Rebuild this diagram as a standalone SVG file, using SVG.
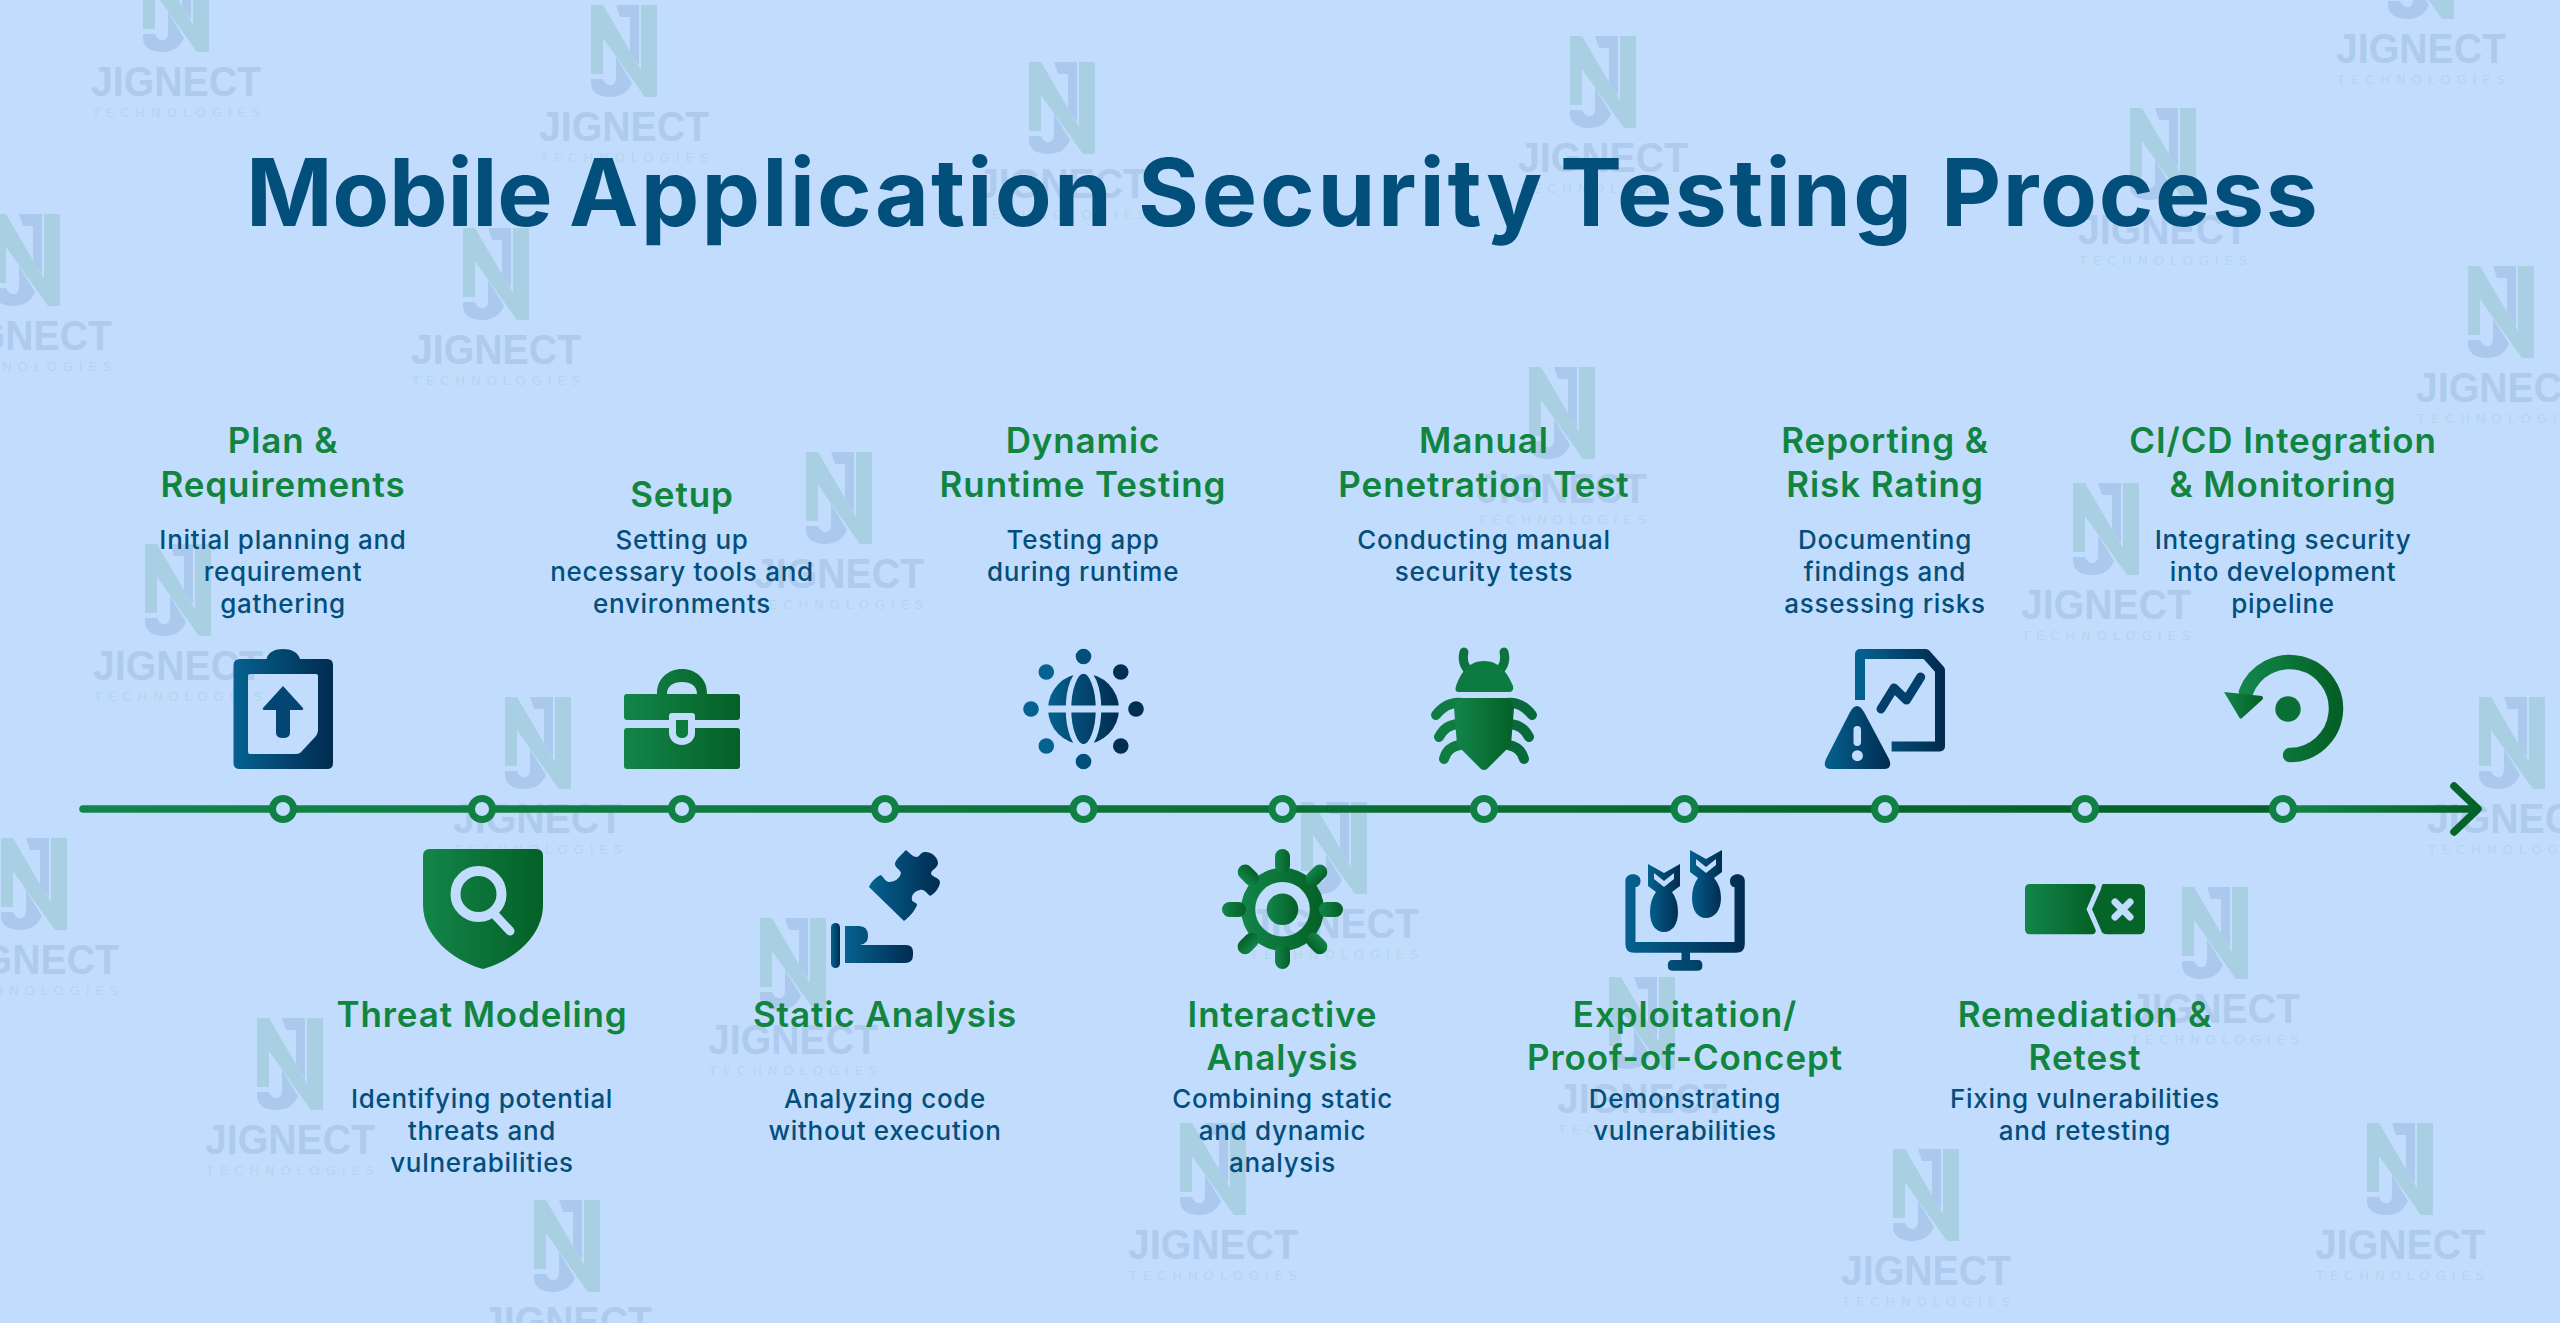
<svg xmlns="http://www.w3.org/2000/svg" xmlns:xlink="http://www.w3.org/1999/xlink" width="2560" height="1323" viewBox="0 0 2560 1323">
<style>
text{font-family:"Inter","Roboto","Liberation Sans",sans-serif;text-anchor:middle}
.title{font-size:93px;font-weight:700;fill:#034f7c;text-anchor:start}
.h{font-size:35px;font-weight:600;fill:#11853f;letter-spacing:.9px}
.d{font-size:26px;font-weight:500;fill:#034f7c;letter-spacing:.7px}
.wj{font-family:"Liberation Sans",sans-serif;font-weight:700;font-size:42px;fill:#aecbee;text-anchor:start;letter-spacing:0}
.wt{font-family:"DejaVu Sans",sans-serif;font-size:13px;fill:#b2d6ea;text-anchor:start;letter-spacing:0}
.ring{fill:#c2dcfd;stroke:#118044;stroke-width:7}
.g{fill:url(#gg)}
.b{fill:url(#bg)}
</style>
<defs>
<linearGradient id="gg" x1="0" x2="1" y1="0" y2="0"><stop offset="0" stop-color="#13854a"/><stop offset="1" stop-color="#046026"/></linearGradient>
<linearGradient id="bg" x1="0" x2="1" y1="0" y2="0"><stop offset="0" stop-color="#04618f"/><stop offset="1" stop-color="#012c50"/></linearGradient>
<linearGradient id="l1" gradientUnits="userSpaceOnUse" x1="80" x2="2283" y1="0" y2="0"><stop offset="0" stop-color="#13854a"/><stop offset="1" stop-color="#046026"/></linearGradient>
<linearGradient id="l2" gradientUnits="userSpaceOnUse" x1="2283" x2="2481" y1="0" y2="0"><stop offset="0" stop-color="#13854a"/><stop offset="1" stop-color="#046026"/></linearGradient>
<g id="logo">
<path fill="#abc9ec" d="M77 0H100V60L91 47V12H81Z"/>
<path fill="#abc9ec" d="M52 74H64C66 79 70 81 73 80C76 79 77 76 77 72V52L93 78C89 87 82 92 71 92C60 92 52 87 52 78Z"/>
<path fill="#a9cfe2" d="M52 0H64L102 65V0H118V92H106L64 33V69H52Z"/>
<text class="wj" x="0" y="136" textLength="170" lengthAdjust="spacingAndGlyphs">JIGNECT</text>
<text class="wt" x="1" y="157" textLength="168" lengthAdjust="spacing">TECHNOLOGIES</text>
</g>
</defs>
<rect id="background" width="2560" height="1323" fill="#c2dcfd"/>
<g id="watermarks">
<use xlink:href="#logo" href="#logo" x="91" y="-40"/>
<use xlink:href="#logo" href="#logo" x="539" y="5"/>
<use xlink:href="#logo" href="#logo" x="-58" y="214"/>
<use xlink:href="#logo" href="#logo" x="411" y="228"/>
<use xlink:href="#logo" href="#logo" x="977" y="62"/>
<use xlink:href="#logo" href="#logo" x="1518" y="36"/>
<use xlink:href="#logo" href="#logo" x="2078" y="108"/>
<use xlink:href="#logo" href="#logo" x="2336" y="-73"/>
<use xlink:href="#logo" href="#logo" x="2416" y="266"/>
<use xlink:href="#logo" href="#logo" x="1477" y="367"/>
<use xlink:href="#logo" href="#logo" x="754" y="452"/>
<use xlink:href="#logo" href="#logo" x="2021" y="483"/>
<use xlink:href="#logo" href="#logo" x="93" y="544"/>
<use xlink:href="#logo" href="#logo" x="453" y="697"/>
<use xlink:href="#logo" href="#logo" x="2427" y="697"/>
<use xlink:href="#logo" href="#logo" x="-51" y="838"/>
<use xlink:href="#logo" href="#logo" x="1249" y="802"/>
<use xlink:href="#logo" href="#logo" x="2130" y="887"/>
<use xlink:href="#logo" href="#logo" x="708" y="918"/>
<use xlink:href="#logo" href="#logo" x="1557" y="977"/>
<use xlink:href="#logo" href="#logo" x="205" y="1018"/>
<use xlink:href="#logo" href="#logo" x="1128" y="1123"/>
<use xlink:href="#logo" href="#logo" x="1841" y="1149"/>
<use xlink:href="#logo" href="#logo" x="2315" y="1123"/>
<use xlink:href="#logo" href="#logo" x="482" y="1200"/>
</g>
<text id="title" class="title" y="226"><tspan x="246" style="letter-spacing:-.3px">Mobile </tspan><tspan x="569" style="letter-spacing:2.200px">Application </tspan><tspan x="1138" style="letter-spacing:2.800px">Security </tspan><tspan x="1560" style="letter-spacing:2.300px">Testing </tspan><tspan x="1941" style="letter-spacing:1.600px">Process</tspan></text>
<g id="connectors" fill="none" stroke-linecap="round" stroke-linejoin="round" stroke-width="7.5">
<path stroke="url(#l1)" d="M83 809H2283"/>
<path stroke="url(#l2)" d="M2283 809H2477"/>
<path stroke="url(#l2)" d="M2454 786L2478 809L2454 832"/>
</g>
<g id="n1">
<circle class="ring" cx="283" cy="809" r="10.500"/>
<path class="b" fill-rule="evenodd" d="M240 659H266.600C268 652 275 649 283 649C291 649 298 652 300 659H327Q333 659 333 665V763Q333 769 327 769H240Q233.500 769 233.500 763V665Q233.500 659 240 659ZM250 674Q248 674 248 676V752Q248 754 250 754H296Q300 754 302 751L316 736Q318 733 318 730V676Q318 674 316 674Z"/>
<path fill="#034673" d="M283 686L303 708Q304 710 301 710H290V733Q290 738 283 738Q276 738 276 733V710H265Q262 710 263 708Z"/>
<text class="h" x="283" y="453">Plan &amp;</text><text class="h" x="283" y="497">Requirements</text>
<text class="d" x="283" y="549">Initial planning and</text><text class="d" x="283" y="581">requirement</text><text class="d" x="283" y="613">gathering</text>
</g>
<g id="n2">
<circle class="ring" cx="482" cy="809" r="10.500"/>
<path class="g" d="M430 849H536Q543 849 543 856V905C543 935 515 960 483 969C451 960 423 935 423 905V856Q423 849 430 849Z"/>
<circle cx="478.500" cy="894" r="23" fill="none" stroke="#c2dcfd" stroke-width="10"/>
<path d="M496 916L510 931" stroke="#c2dcfd" stroke-width="9" stroke-linecap="round"/>
<text class="h" x="482" y="1027">Threat Modeling</text>
<text class="d" x="482" y="1108">Identifying potential</text><text class="d" x="482" y="1140">threats and</text><text class="d" x="482" y="1172">vulnerabilities</text>
</g>
<g id="n3">
<circle class="ring" cx="682" cy="809" r="10.500"/>
<path class="g" fill-rule="evenodd" d="M657 694V693C657 679 668 669 682 669C696 669 707 679 707 693V694H737Q740 694 740 697V717Q740 720 737 720H695V716Q695 713 692 713H672Q669 713 669 716V720H627Q624 720 624 717V697Q624 694 627 694ZM667 694H697C697 686 691 682 682 682C673 682 667 686 667 694Z"/>
<path class="g" fill-rule="evenodd" d="M627 728H669V733C669 740 675 745 682 745C689 745 695 740 695 733V728H737Q740 728 740 731V766Q740 769 737 769H627Q624 769 624 766V731Q624 728 627 728Z"/>
<path fill="#0d7a3f" d="M676 720H688V733C688 736 685 738 682 738C679 738 676 736 676 733Z"/>
<text class="h" x="682" y="507">Setup</text>
<text class="d" x="682" y="549">Setting up</text><text class="d" x="682" y="581">necessary tools and</text><text class="d" x="682" y="613">environments</text>
</g>
<g id="n4">
<circle class="ring" cx="885" cy="809" r="10.500"/>
<path class="b" d="M869 887C872 880 878 876 881 875C884 878 886 882 889 882C895 882 900 878 901 873C900 869 895 868 895 864C895 860 903 853 906 850C909 852 912 857 917 857C919 857 920 853 924 852C931 851 938 857 938 863C938 868 932 869 931 873C931 877 939 877 940 882C940 888 933 895 930 896C927 894 925 889 920 890C914 891 911 896 912 900C913 903 917 902 917 905C915 911 908 918 904 921Z"/>
<rect class="b" x="831" y="923" width="9" height="45" rx="4.500"/>
<path class="b" d="M845 926H859Q868 926 868 936Q868 944 860 945H906Q913 945 913 952V955Q913 963 905 963H845Z"/>
<text class="h" x="885" y="1027">Static Analysis</text>
<text class="d" x="885" y="1108">Analyzing code</text><text class="d" x="885" y="1140">without execution</text>
</g>
<g id="n5">
<circle class="ring" cx="1083.500" cy="809" r="10.500"/>
<g class="b">
<circle cx="1083.500" cy="709" r="35.500"/>
</g>
<g fill="none" stroke="#c2dcfd">
<path d="M1045 709H1122" stroke-width="7"/>
<ellipse cx="1083.500" cy="709" rx="15" ry="38" stroke-width="5.500"/>
</g>
<g fill="#034f7c">
<circle cx="1083.500" cy="656.500" r="7.800"/><circle cx="1083.500" cy="761.500" r="7.800"/>
<circle cx="1031" cy="709" r="7.800" fill="#05618f"/><circle cx="1136" cy="709" r="7.800" fill="#012e52"/>
<circle cx="1046.300" cy="672" r="7.800" fill="#05618f"/><circle cx="1120.800" cy="672" r="7.800" fill="#012e52"/>
<circle cx="1046.300" cy="746" r="7.800" fill="#05618f"/><circle cx="1120.800" cy="746" r="7.800" fill="#012e52"/>
</g>
<text class="h" x="1083" y="453">Dynamic</text><text class="h" x="1083" y="497">Runtime Testing</text>
<text class="d" x="1083" y="549">Testing app</text><text class="d" x="1083" y="581">during runtime</text>
</g>
<g id="n6">
<circle class="ring" cx="1282.500" cy="809" r="10.500"/>
<g class="g">
<path fill-rule="evenodd" d="M1282.500 867.800A41.500 41.500 0 1 0 1282.501 950.800A41.500 41.500 0 1 0 1282.500 867.800ZM1282.500 882A27.300 27.300 0 1 1 1282.499 936.600A27.300 27.300 0 1 1 1282.500 882Z"/>
<circle cx="1282.500" cy="909.300" r="15.800"/>
<rect x="1275" y="849" width="15" height="24" rx="7.500"/>
<rect x="1275" y="945" width="15" height="24" rx="7.500"/>
<rect x="1222" y="902" width="24" height="15" rx="7.500"/>
<rect x="1319" y="902" width="24" height="15" rx="7.500"/>
<rect x="1275" y="849" width="15" height="24" rx="7.500" transform="rotate(45 1282.500 909.300)"/>
<rect x="1275" y="849" width="15" height="24" rx="7.500" transform="rotate(135 1282.500 909.300)"/>
<rect x="1275" y="849" width="15" height="24" rx="7.500" transform="rotate(225 1282.500 909.300)"/>
<rect x="1275" y="849" width="15" height="24" rx="7.500" transform="rotate(315 1282.500 909.300)"/>
</g>
<text class="h" x="1282.500" y="1027">Interactive</text><text class="h" x="1282.500" y="1070">Analysis</text>
<text class="d" x="1282.500" y="1108">Combining static</text><text class="d" x="1282.500" y="1140">and dynamic</text><text class="d" x="1282.500" y="1172">analysis</text>
</g>
<g id="n7">
<circle class="ring" cx="1484" cy="809" r="10.500"/>
<path fill="none" stroke="#0b733b" stroke-width="9" stroke-linecap="round" d="M1464 652Q1461 664 1470 672M1504 652Q1507 664 1498 672"/>
<path fill="#0d7a3f" d="M1484 661C1499 661 1507 672 1513 686Q1514 692 1509 692H1459Q1454 692 1456 686C1461 672 1469 661 1484 661Z"/>
<path fill="none" stroke="#0f7d41" stroke-width="10" stroke-linecap="round" d="M1462 703Q1447 701 1436 715M1458 724Q1445 725 1439 737M1460 745Q1447 747 1444 759"/>
<path fill="none" stroke="#08693a" stroke-width="10" stroke-linecap="round" d="M1506 703Q1521 701 1532 715M1510 724Q1523 725 1529 737M1508 745Q1521 747 1524 759"/>
<path class="g" d="M1462 698H1506Q1512 700 1514 708L1511 745L1505 751L1487 769Q1484 771 1481 769L1463 751L1457 745L1454 708Q1456 700 1462 698Z"/>
<text class="h" x="1484" y="453">Manual</text><text class="h" x="1484" y="497">Penetration Test</text>
<text class="d" x="1484" y="549">Conducting manual</text><text class="d" x="1484" y="581">security tests</text>
</g>
<g id="n8">
<circle class="ring" cx="1684.500" cy="809" r="10.500"/>
<path class="b" d="M1625.400 881C1625 872 1641 872 1640.500 881C1640.500 885 1638 887 1635.500 887V942H1734.500V887C1732 887 1730 885 1730 881C1730 872 1745 872 1744.800 881V944Q1744.800 952.700 1736 952.700H1690V960H1698Q1702.400 960 1702.400 965.500Q1702.400 970.700 1698 970.700H1672Q1667.800 970.700 1667.800 965.500Q1667.800 960 1672 960H1681.500V952.700H1634Q1625.400 952.700 1625.400 944Z"/>
<g class="b">
<path fill-rule="evenodd" d="M1648 864L1664 873L1680 864V886L1672 892Q1678 900 1678 912C1678 925 1672 932 1664 932C1656 932 1650 925 1650 912Q1650 900 1656 892L1648 886ZM1654 873V879L1664 887L1674 879V873L1664 881Z"/>
</g>
<g class="b">
<path fill-rule="evenodd" d="M1690 850L1706 859L1722 850V872L1714 878Q1721 886 1721 898C1721 911 1714 918 1706 918C1698 918 1692 911 1692 898Q1692 886 1698 878L1690 872ZM1696 859V865L1706 873L1716 865V859L1706 867Z"/>
</g>
<text class="h" x="1685" y="1027">Exploitation/</text><text class="h" x="1685" y="1070">Proof-of-Concept</text>
<text class="d" x="1685" y="1108">Demonstrating</text><text class="d" x="1685" y="1140">vulnerabilities</text>
</g>
<g id="n9">
<circle class="ring" cx="1885" cy="809" r="10.500"/>
<path fill="none" stroke="url(#bg)" stroke-width="10" stroke-linejoin="round" d="M1860 700V654H1925.800L1940 670V746.500H1891.600"/>
<path fill="none" stroke="#033f6b" stroke-width="9" stroke-linecap="round" stroke-linejoin="round" d="M1881 709L1894 688L1906.400 700L1920.700 677"/>
<path class="b" d="M1850 712Q1857 700 1864 712L1889 759Q1893 769 1884 769H1831Q1822 769 1826 759Z"/>
<rect x="1853.500" y="726" width="7.500" height="20" rx="3.700" fill="#c2dcfd"/>
<circle cx="1857.400" cy="755.700" r="5.500" fill="#c2dcfd"/>
<text class="h" x="1885" y="453">Reporting &amp;</text><text class="h" x="1885" y="497">Risk Rating</text>
<text class="d" x="1885" y="549">Documenting</text><text class="d" x="1885" y="581">findings and</text><text class="d" x="1885" y="613">assessing risks</text>
</g>
<g id="n10">
<circle class="ring" cx="2085" cy="809" r="10.500"/>
<path class="g" d="M2030 884H2092Q2096 884 2095.700 888L2086.500 909.300L2095.700 930Q2096 934.300 2092 934.300H2030Q2025 934.300 2025 929V889Q2025 884 2030 884Z"/>
<path fill="#056529" d="M2103 884H2139Q2145 884 2145 890V928Q2145 934.300 2139 934.300H2107Q2102 934.300 2101 930L2092 909.300L2101 889Q2102 884 2103 884Z"/>
<path d="M2115 902L2130 917M2130 902L2115 917" stroke="#c2dcfd" stroke-width="7" stroke-linecap="round"/>
<text class="h" x="2085" y="1027">Remediation &amp;</text><text class="h" x="2085" y="1070">Retest</text>
<text class="d" x="2085" y="1108">Fixing vulnerabilities</text><text class="d" x="2085" y="1140">and retesting</text>
</g>
<g id="n11">
<circle class="ring" cx="2283" cy="809" r="10.500"/>
<path fill="none" stroke="url(#gg)" stroke-width="14.500" stroke-linecap="round" d="M2290 755A46.500 46.500 0 1 0 2246 692"/>
<path class="g" d="M2224 692L2262 696Q2264 698 2262 700L2242 718Q2240 720 2239 717Z"/>
<circle cx="2288" cy="709" r="12.700" fill="#0a6f36"/>
<text class="h" x="2283" y="453">CI/CD Integration</text><text class="h" x="2283" y="497">&amp; Monitoring</text>
<text class="d" x="2283" y="549">Integrating security</text><text class="d" x="2283" y="581">into development</text><text class="d" x="2283" y="613">pipeline</text>
</g>
</svg>
